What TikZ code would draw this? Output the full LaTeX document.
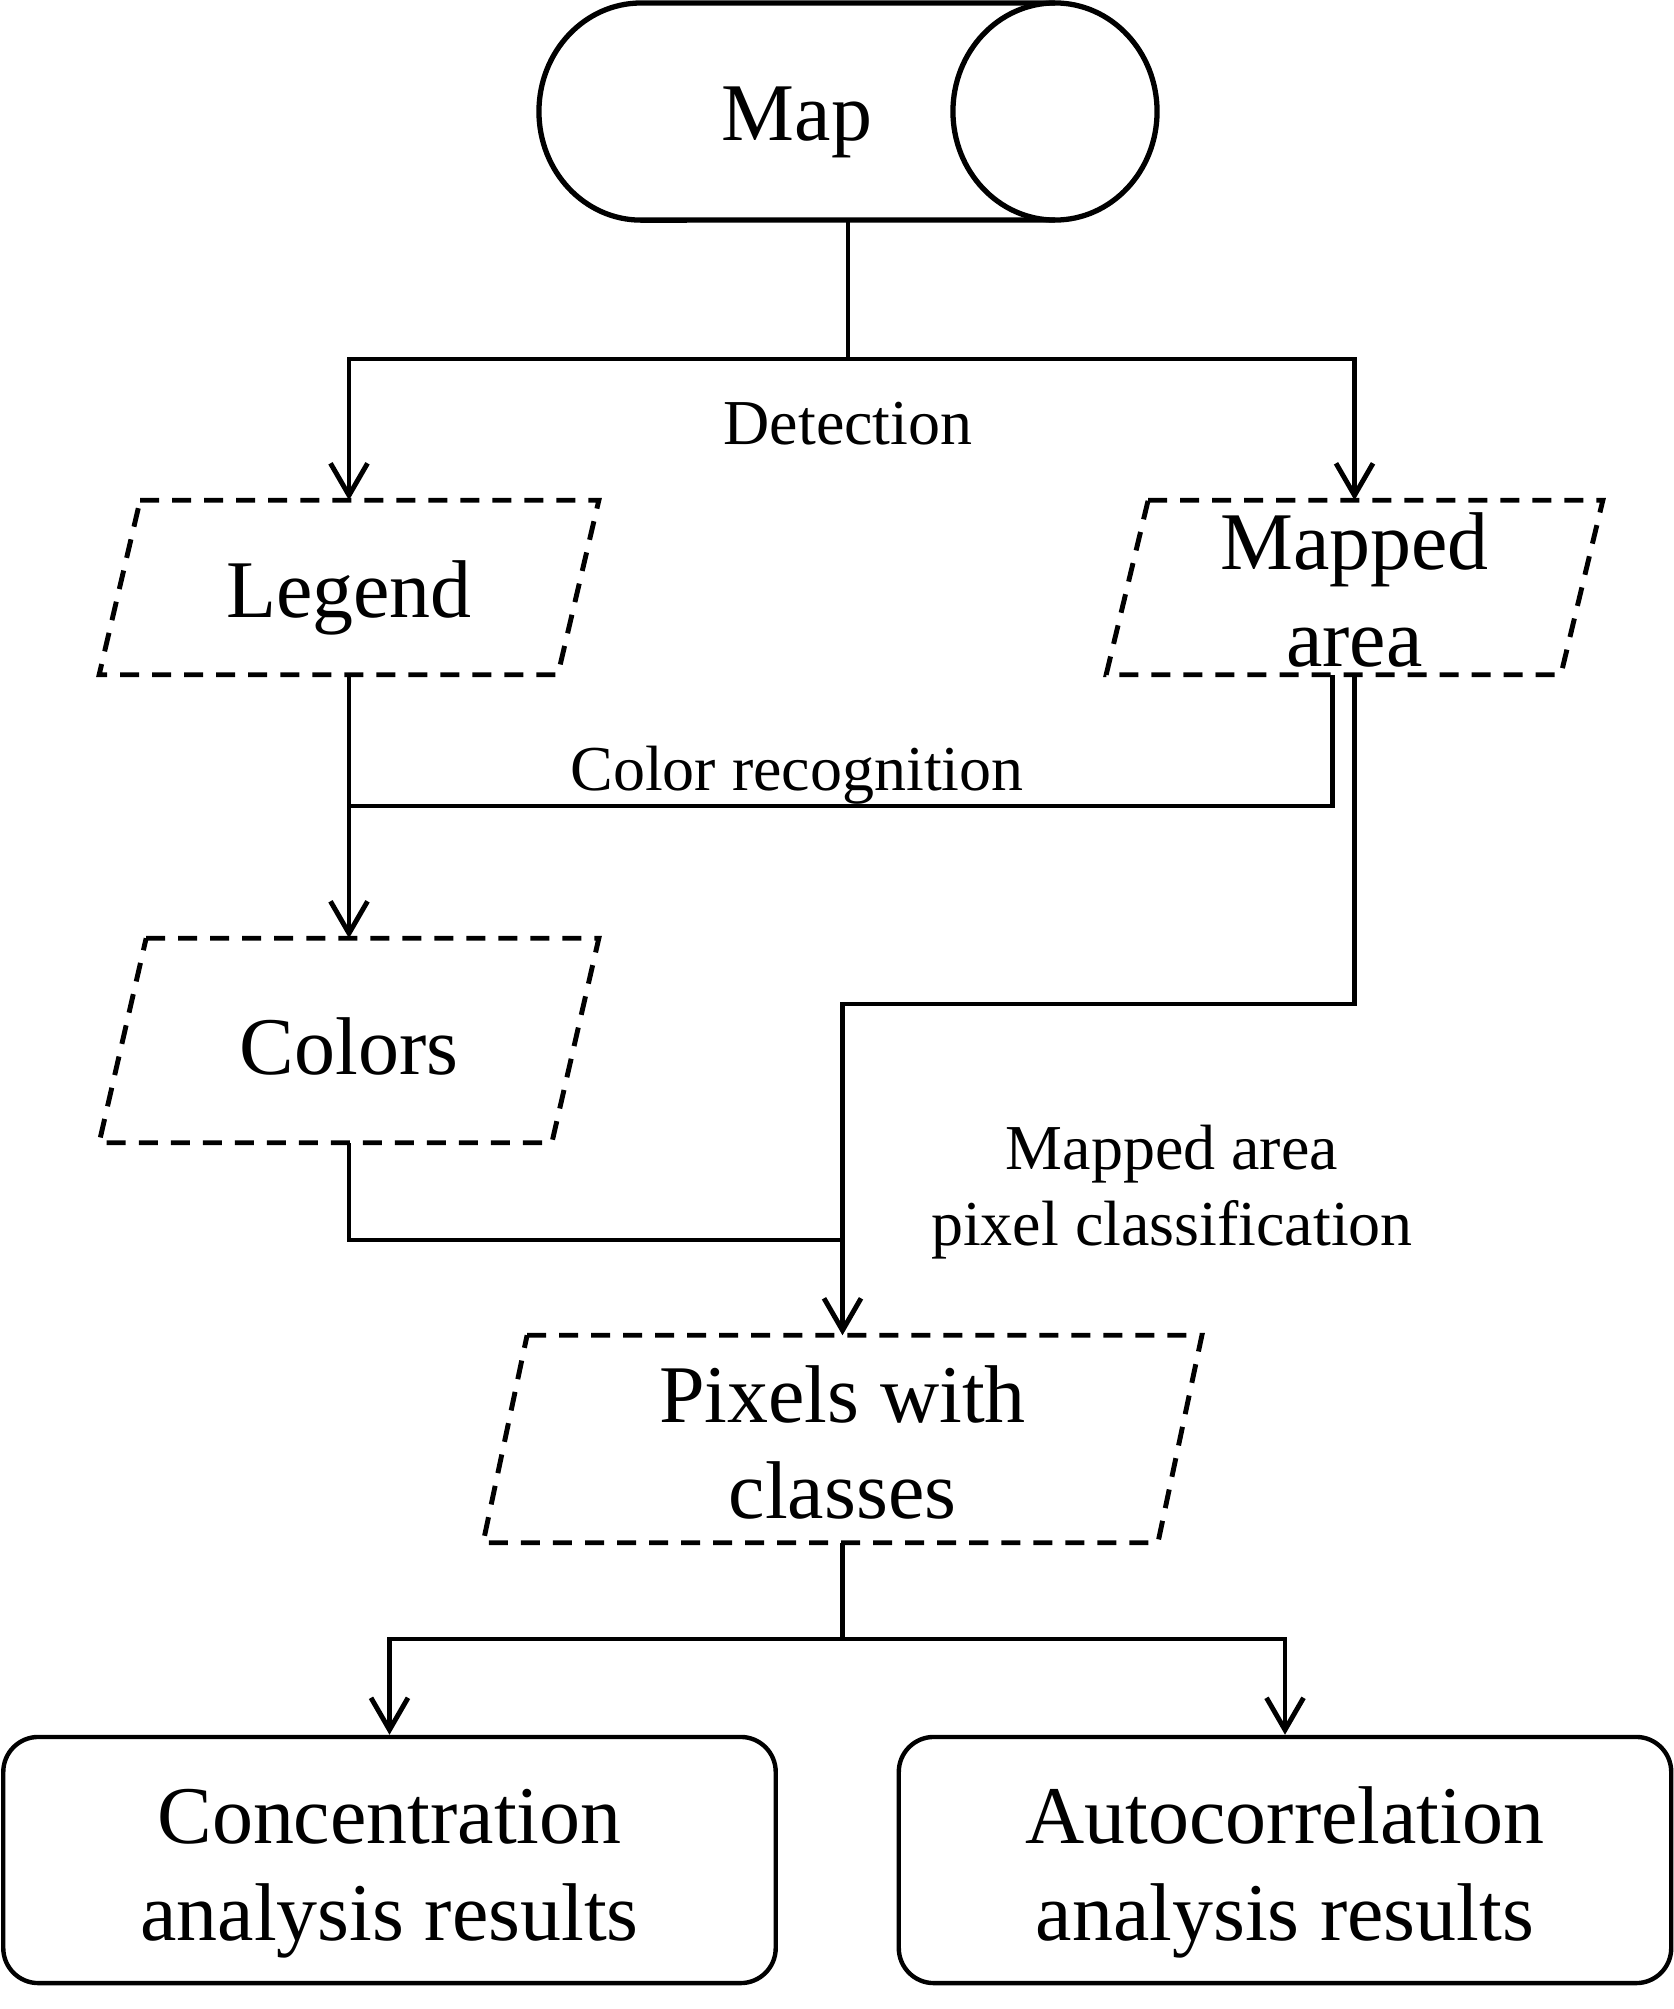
\documentclass[tikz,border=0pt]{standalone}
\usepackage{fontspec}
\setmainfont{Liberation Serif}
\usetikzlibrary{arrows.meta, positioning, calc}
\newcommand{\bigtext}{\fontsize{23.3pt}{27.5pt}\selectfont}
\newcommand{\smalltext}{\fontsize{18.2pt}{21.8pt}\selectfont}
\tikzset{
  databox/.style={inner sep=0pt, font=\bigtext, align=center},
  dashline/.style={line width=1.4pt, dash pattern=on 0.19cm off 0.13cm},
  flow/.style={line width=1.4pt},
  arrow/.style={flow, -{Straight Barb[length=3.2mm, width=3.7mm]}},
  resultbox/.style={draw, line width=1.25pt, rounded corners=0.35cm, inner sep=0pt, minimum width=7.72cm, minimum height=2.46cm, font=\bigtext, align=center},
  steplabel/.style={font=\smalltext, align=center},
}

\begin{document}
\begin{tikzpicture}[x=0.01cm, y=-0.01cm]
  \useasboundingbox (0,0) rectangle (1674,2009);

  % source map
  \node[font=\bigtext, inner sep=0pt, minimum width=6.18cm, minimum height=2.17cm] (map) at (848,111.5) {\rule{0pt}{0.76cm}Map\hspace*{1.02cm}};
  \draw[line width=1.5pt] (1055,3) -- (641,3) arc[start angle=90, end angle=270, x radius=1.02cm, y radius=1.085cm] -- (1055,220);
  \draw[line width=1.5pt] (1055,111.5) ellipse [x radius=1.02cm, y radius=1.085cm];

  % data
  \node[databox, minimum width=4.98cm, minimum height=1.73cm] (legend) at (349,587.5) {\rule{0pt}{0.78cm}Legend};
  \node[databox, minimum width=4.95cm, minimum height=1.73cm] (mapped) at (1354.5,587.5) {\rule{0pt}{0.62cm}Mapped\\area};
  \node[databox, minimum width=4.98cm, minimum height=2.03cm] (colors) at (349,1040.5) {\rule{0pt}{0.68cm}Colors};
  \node[databox, minimum width=7.17cm, minimum height=2.06cm] (pixels) at (842.5,1439) {\rule{0pt}{0.64cm}Pixels with\\classes};
  \foreach \n/\s in {legend/41, mapped/42, colors/47, pixels/44}
    \draw[dashline] ([xshift=\s*0.01cm]\n.north west) -- (\n.north east) -- ([xshift=-\s*0.01cm]\n.south east) -- (\n.south west) -- cycle;

  % results
  \node[resultbox] (conc) at (389.5,1860) {\rule{0pt}{0.82cm}Concentration\\analysis results};
  \node[resultbox] (auto) at (1285,1860) {\rule{0pt}{0.82cm}Autocorrelation\\analysis results};

  % detection
  \coordinate (split1) at (map.south |- 0,359);
  \draw[flow] (map.south) -- (split1);
  \draw[arrow] (split1) -| (legend.north);
  \draw[arrow] (split1) -| (mapped.north);
  \node[steplabel] (detect) at (848,424) {Detection};

  % color recognition
  \draw[arrow] (legend.south) -- (colors.north);
  \draw[flow] ([xshift=-0.22cm]mapped.south) |- (legend.south |- 0,806);
  \node[steplabel] (colorrec) at (797,775) {Color recognition};

  % classification
  \draw[arrow] (mapped.south) |- (pixels.north |- 0,1004) -- (pixels.north);
  \draw[flow] (colors.south) |- (pixels.north |- 0,1240);
  \node[steplabel] (classify) at (1172,1192) {Mapped area\\pixel classification};

  % analysis
  \coordinate (split2) at (pixels.south |- 0,1639);
  \draw[flow] (pixels.south) -- (split2);
  \draw[arrow] (split2) -| (conc.north);
  \draw[arrow] (split2) -| (auto.north);
\end{tikzpicture}
\end{document}
